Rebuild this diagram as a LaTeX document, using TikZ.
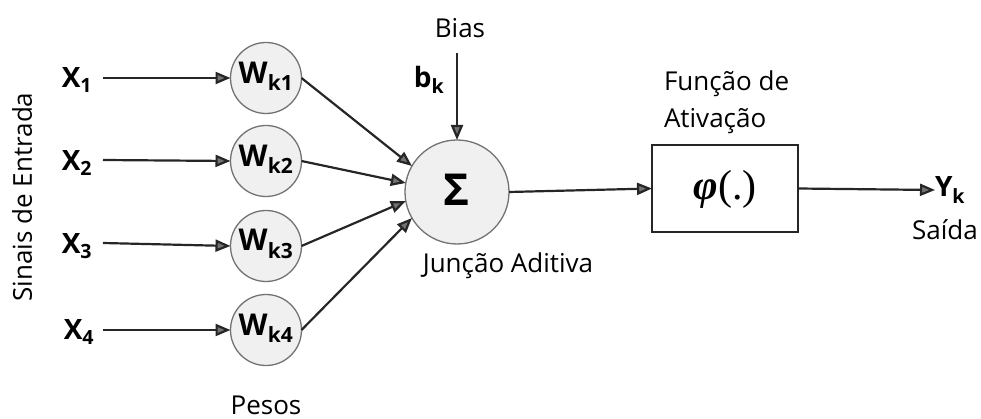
\documentclass[tikz,border=0pt]{standalone}
\usepackage{fontspec}
\setmainfont{Open Sans}
\newfontfamily\phifont{Liberation Serif}
\usetikzlibrary{arrows.meta}
\begin{document}
\begin{tikzpicture}[x=1pt,y=-1pt,
  every node/.style={inner sep=0pt,outer sep=0pt},
  wcirc/.style={circle,draw=black!55,fill=black!6,line width=1.3pt,minimum size=71pt},
  scirc/.style={circle,draw=black!55,fill=black!6,line width=1.3pt,minimum size=104pt},
  conn/.style={draw=black!85,line width=2.2pt,-{Triangle[length=15pt,width=12pt,fill=black!55]}},
  lbl/.style={font=\fontsize{26}{32}\selectfont},
  blbl/.style={font=\fontsize{28}{32}\selectfont\bfseries}
]
\useasboundingbox (0,0) rectangle (981,419);
% input labels
\node[blbl] (x1) at (77,80) {X\textsubscript{1}};
\node[blbl] (x2) at (77,163) {X\textsubscript{2}};
\node[blbl] (x3) at (77,246) {X\textsubscript{3}};
\node[blbl] (x4) at (79,332) {X\textsubscript{4}};
% weights
\node[wcirc] (w1) at (266,78) {};
\node[wcirc] (w2) at (266,161) {};
\node[wcirc] (w3) at (266,246) {};
\node[wcirc] (w4) at (266,330) {};
\foreach \i in {1,2,3,4}{
  \node[font=\fontsize{30}{34}\selectfont\bfseries] at ([yshift=2pt]w\i) {W\textsubscript{k\i}};
}
% input arrows
\coordinate (a1) at (103,78);
\coordinate (a2) at (103,160);
\coordinate (a3) at (103,243);
\coordinate (a4) at (103,330);
\foreach \i in {1,2,3,4}{
  \draw[conn] (a\i) -- (w\i.west);
}
% summation
\node[scirc] (s) at (457,192) {};
\node[font=\fontsize{44}{48}\selectfont\bfseries] at ([yshift=2pt]s) {Σ};
\draw[conn] (w1.east) -- (s.150);
\draw[conn] (w2.east) -- (s.170);
\draw[conn] (w3.east) -- (s.190);
\draw[conn] (w4.east) -- (s.210);
% bias
\node[lbl] (bias) at (460,28) {Bias};
\node[blbl] (bk) at (429,80) {b\textsubscript{k}};
\coordinate (bt) at (457,53);
\draw[conn] (bt) -- (s.north);
\node[lbl] (ja) at (508,266) {Junção Aditiva};
% activation
\node[draw=black!85,line width=1.4pt,minimum width=146pt,minimum height=87pt] (f) at (725,188.5) {};
\node[font=\fontsize{42}{46}\selectfont\phifont] at ([yshift=-1pt]f) {{\bfseries\itshape φ}(.)};
\node[lbl,align=left,anchor=west] (fa1) at (664,84) {Função de};
\node[lbl,align=left,anchor=west] (fa2) at (664,121) {Ativação};
\draw[conn] (s.east) -- (f.west);
% output
\node[blbl,anchor=west] (yk) at (935,190) {Y\textsubscript{k}};
\draw[conn] (f.east) -- (yk.west);
\node[lbl] (saida) at (945,230) {Saída};
% side labels
\node[lbl,rotate=90] (sinais) at (22,197) {Sinais de Entrada};
\node[lbl] (pesos) at (266,405) {Pesos};
\end{tikzpicture}
\end{document}
